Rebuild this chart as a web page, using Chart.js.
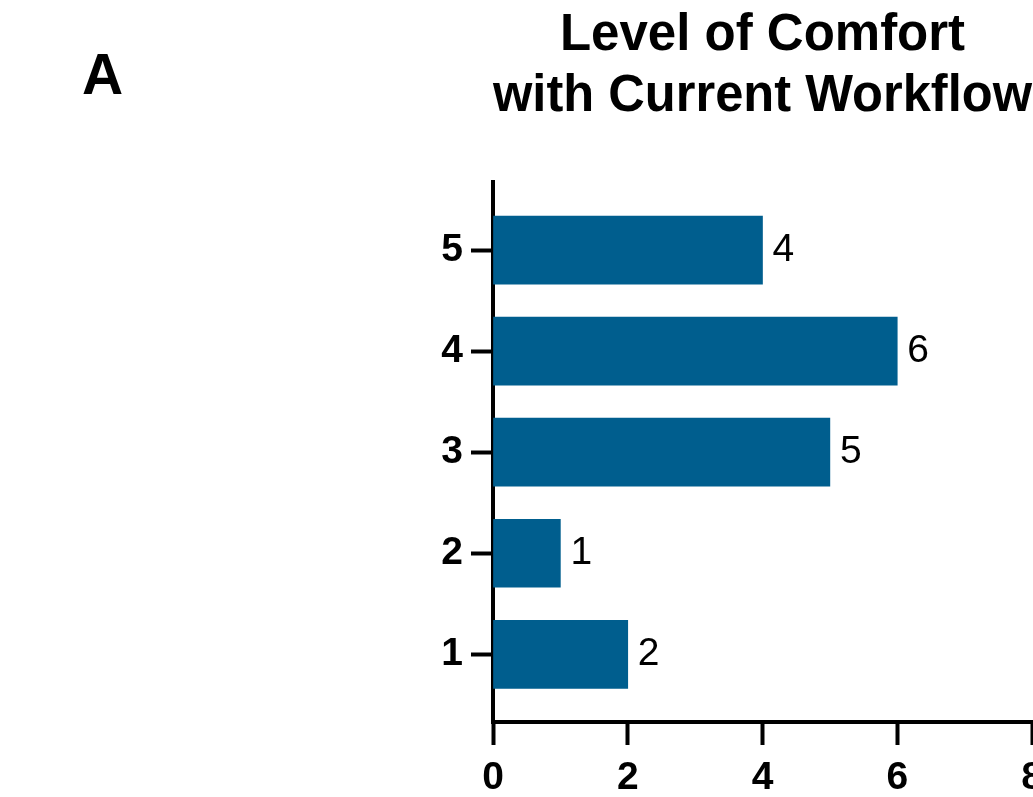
<!DOCTYPE html>
<html>
<head>
<meta charset="utf-8">
<title>Level of Comfort with Current Workflow</title>
<script src="https://cdn.jsdelivr.net/npm/chart.js@4/dist/chart.umd.min.js"></script>
<style>
  html, body { margin: 0; padding: 0; background: #ffffff; overflow: hidden; }
  #wrap { position: relative; width: 1033px; height: 797px; overflow: hidden; }
  canvas { display: block; }
</style>
</head>
<body>
<div id="wrap"><canvas id="chart" width="1120" height="797"></canvas></div>
<script>
// Comfort level (1 = lowest, 5 = highest) and number of respondents
const comfortLevels = [1, 2, 3, 4, 5];
const respondents = [2, 1, 5, 6, 4];
const countTicks = [0, 2, 4, 6, 8];
const titleLines = ['Level of Comfort', 'with Current Workflow'];
const panelLetter = 'A';

const FONT = '"Liberation Sans", Arial, Helvetica, sans-serif';
const BAR_COLOR = '#005e8e';

// Value printed just past the end of each bar
const barValueLabels = {
  id: 'barValueLabels',
  afterDatasetsDraw(chart) {
    const ctx = chart.ctx;
    const meta = chart.getDatasetMeta(0);
    ctx.save();
    ctx.font = '39px ' + FONT;
    ctx.fillStyle = '#000000';
    ctx.textAlign = 'left';
    ctx.textBaseline = 'middle';
    meta.data.forEach((bar, i) => {
      ctx.fillText(String(respondents[i]), bar.x + 10, bar.y);
    });
    ctx.restore();
  }
};

// Panel letter in the upper left corner
const panelLabel = {
  id: 'panelLabel',
  afterDraw(chart) {
    const ctx = chart.ctx;
    ctx.save();
    ctx.font = 'bold 57px ' + FONT;
    ctx.fillStyle = '#000000';
    ctx.textAlign = 'left';
    ctx.textBaseline = 'alphabetic';
    ctx.fillText(panelLetter, 82, 94);
    ctx.restore();
  }
};

new Chart(document.getElementById('chart'), {
  type: 'bar',
  data: {
    datasets: [{
      data: comfortLevels.map((lvl, i) => ({ x: respondents[i], y: lvl })),
      backgroundColor: BAR_COLOR,
      borderWidth: 0,
      barThickness: 68
    }]
  },
  options: {
    indexAxis: 'y',
    responsive: false,
    animation: false,
    devicePixelRatio: 1,
    layout: { padding: { left: 393, right: 88, top: 0, bottom: 0 } },
    plugins: {
      legend: { display: false },
      tooltip: { enabled: false },
      title: {
        display: true,
        text: titleLines,
        fullSize: false,
        color: '#000000',
        font: { family: FONT, size: 51, weight: 'bold', lineHeight: 1.2 },
        padding: { top: 5, bottom: 55 }
      }
    },
    scales: {
      x: {
        type: 'linear',
        min: countTicks[0],
        max: countTicks[countTicks.length - 1],
        offset: false,
        z: 1,
        afterFit: s => { s.height = 75; },
        afterBuildTicks: s => { s.ticks = countTicks.map(v => ({ value: v })); },
        border: { display: true, color: '#000000', width: 4 },
        grid: {
          offset: false,
          drawOnChartArea: false,
          drawTicks: true,
          tickLength: 23,
          tickWidth: 4,
          tickColor: '#000000'
        },
        ticks: {
          color: '#000000',
          padding: 10,
          maxRotation: 0,
          autoSkip: false,
          font: { family: FONT, size: 39, weight: 'bold' }
        }
      },
      y: {
        type: 'linear',
        min: 0.33,
        max: 5.67,
        offset: false,
        z: 1,
        afterFit: s => { s.width = 100; },
        afterBuildTicks: s => { s.ticks = comfortLevels.map(v => ({ value: v })); },
        border: { display: true, color: '#000000', width: 4 },
        grid: {
          offset: false,
          drawOnChartArea: false,
          drawTicks: true,
          tickLength: 22,
          tickWidth: 4,
          tickColor: '#000000'
        },
        ticks: {
          color: '#000000',
          padding: 8,
          autoSkip: false,
          font: { family: FONT, size: 39, weight: 'bold' },
          callback: v => String(v)
        }
      }
    }
  },
  plugins: [barValueLabels, panelLabel]
});
</script>
</body>
</html>
